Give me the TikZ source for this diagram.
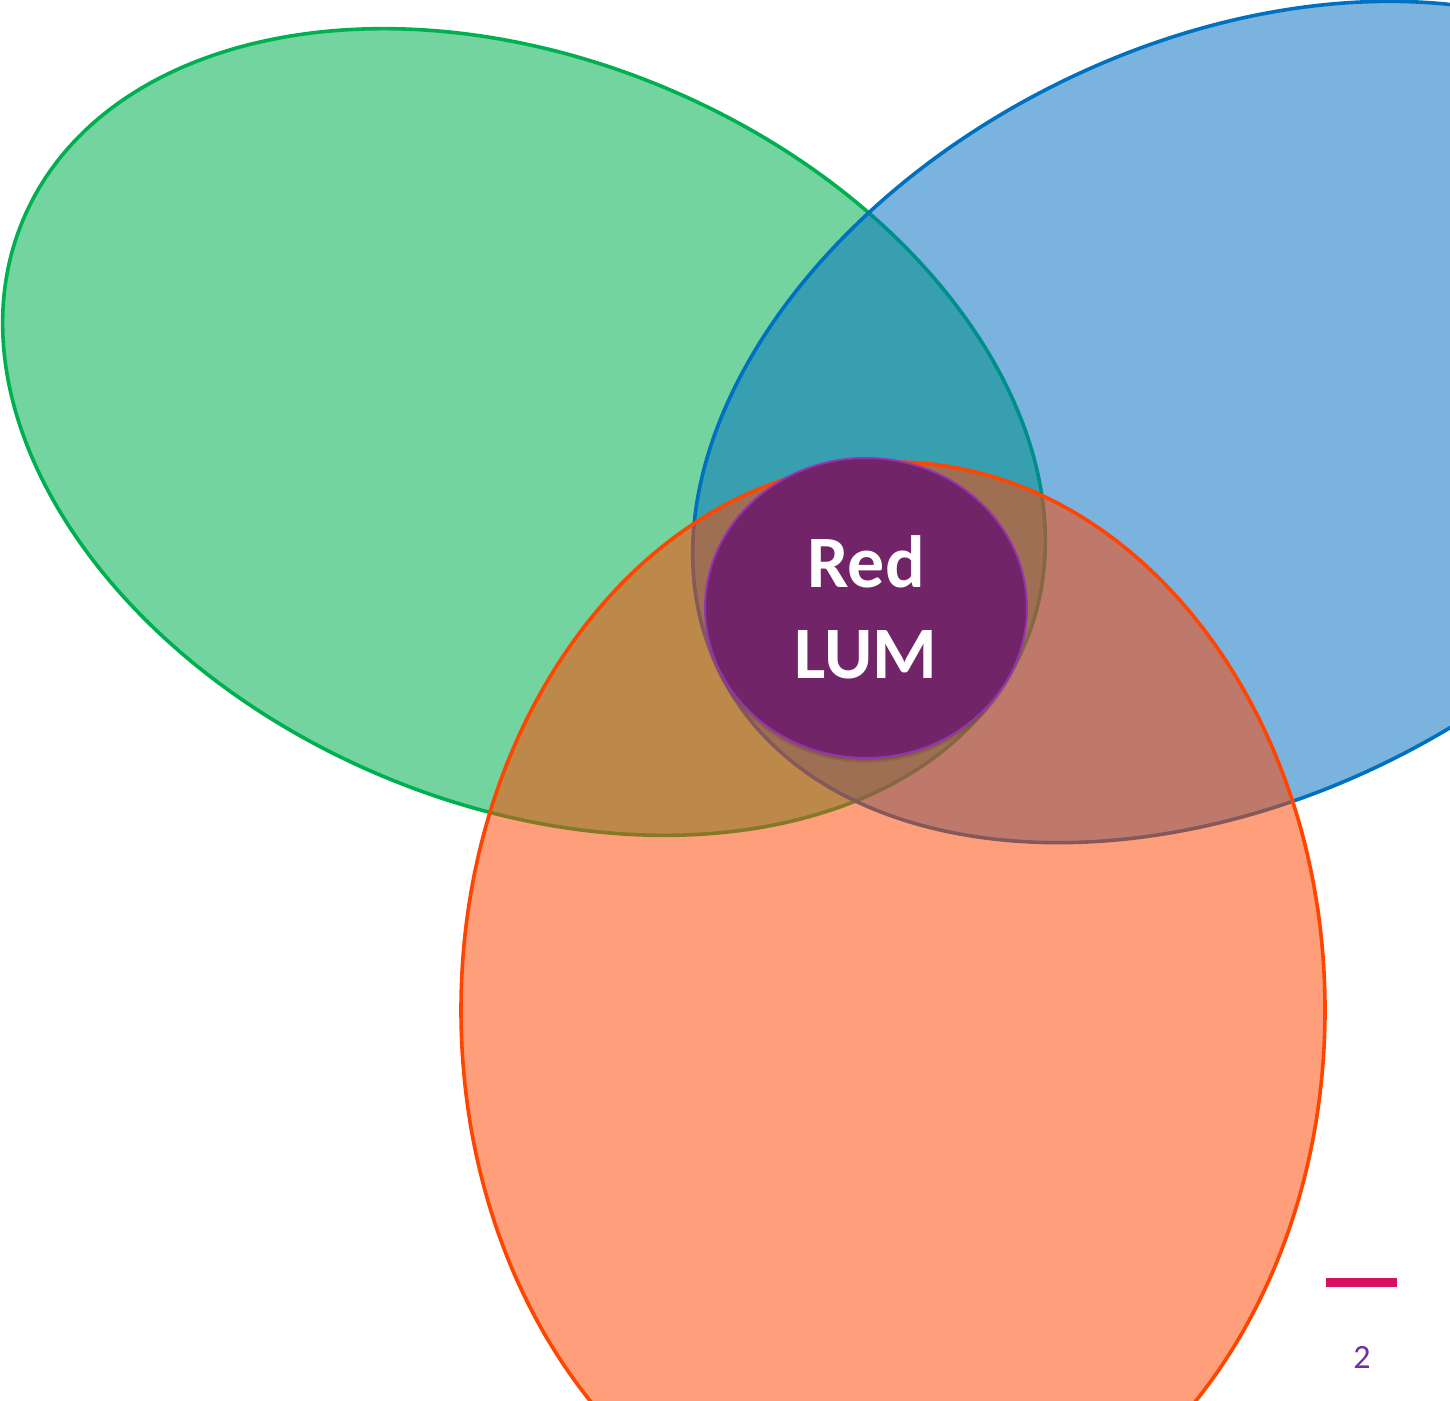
\documentclass[tikz,border=0pt]{standalone}
\usepackage{fontspec}
\setmainfont{Carlito}
\definecolor{gstroke}{RGB}{0,176,80}
\definecolor{bstroke}{RGB}{0,112,192}
\definecolor{ostroke}{RGB}{255,69,0}
\definecolor{lumfill}{RGB}{114,36,104}
\definecolor{lumline}{RGB}{150,52,176}
\definecolor{barcol}{RGB}{215,16,96}
\definecolor{numcol}{RGB}{112,48,160}
\tikzset{
  venn/.style={line width=1.8pt, fill opacity=#1},
  lumtext/.style={text=white, font=\bfseries\fontsize{37}{45.5}\selectfont, align=center},
}
\begin{document}
\begin{tikzpicture}[x=0.5pt,y=-0.5pt]
\useasboundingbox (0,0) rectangle (1450,1401);
\clip (0,0) rectangle (1450,1401);
% green
\draw[venn=0.55, draw=gstroke, fill=gstroke, rotate around={-23.1:(524,432)}]
  (524,432) ellipse [x radius=544, y radius=372];
% blue
\draw[venn=0.52, draw=bstroke, fill=bstroke, rotate around={26.5:(1224,422)}]
  (1224,422) ellipse [x radius=563, y radius=377];
% orange
\draw[venn=0.52, draw=ostroke, fill=ostroke]
  (893,1010) ellipse [x radius=432, y radius=548];
% shadow of centre
\foreach \r in {1,...,8}{
  \fill[black, opacity=0.05] (866,613) ellipse [x radius=153+\r, y radius=142+\r];
}
% centre
\draw[line width=1pt, draw=lumline, fill=lumfill] (866,608) ellipse [x radius=161, y radius=150];
\node[lumtext] (lum) at (866,607) {Red\\LUM};
% bottom-right marks
\fill[barcol] (1326,1278) rectangle (1397,1287);
\node[text=numcol, font=\fontsize{17}{19}\selectfont] (num) at (1362,1357) {2};
\end{tikzpicture}
\end{document}
